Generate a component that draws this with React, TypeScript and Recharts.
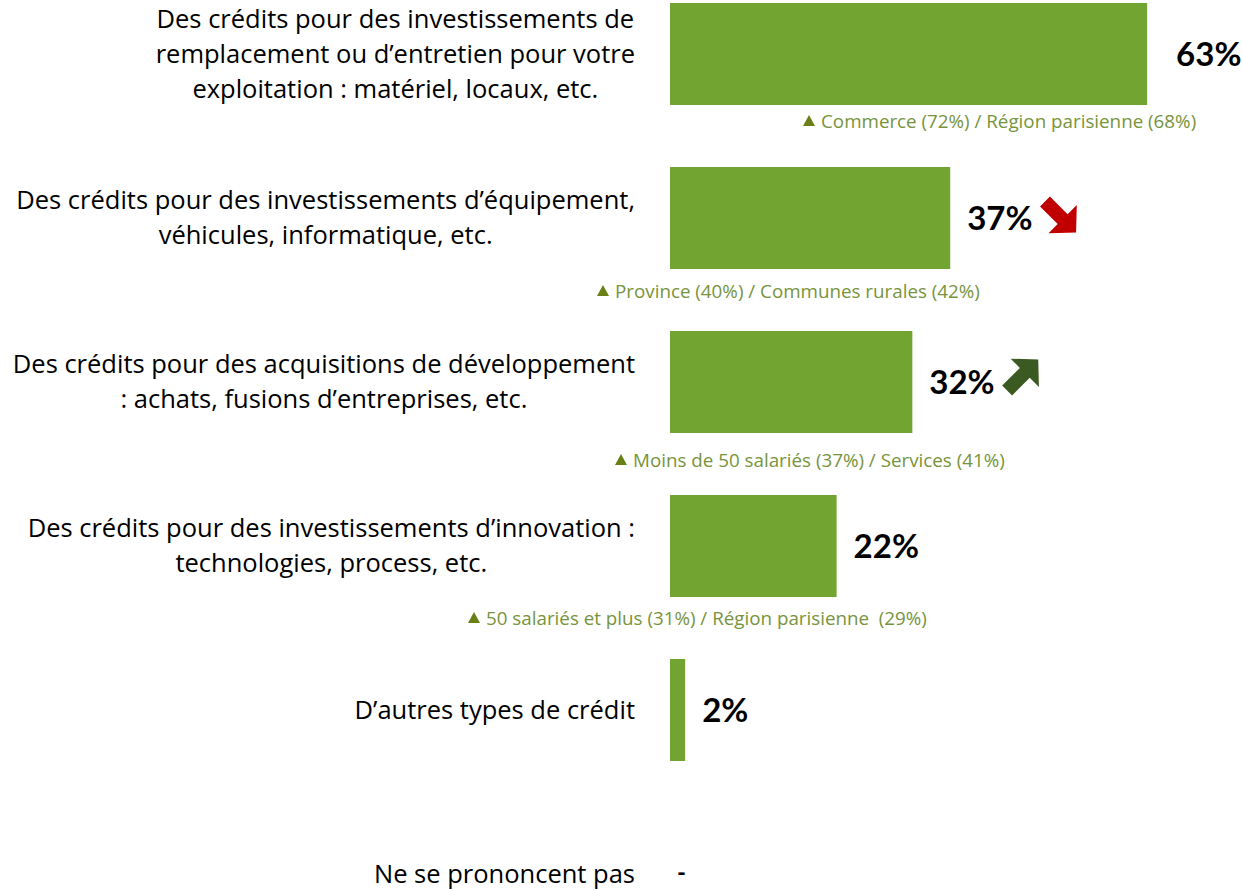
import * as React from "react";
import { Bar, BarChart, XAxis, YAxis, LabelList, Cell } from "recharts";

const categories = [
  "Des crédits pour des investissements de\nremplacement ou d’entretien pour votre\nexploitation : matériel, locaux, etc.",
  "Des crédits pour des investissements d’équipement,\nvéhicules, informatique, etc.",
  "Des crédits pour des acquisitions de développement\n: achats, fusions d’entreprises, etc.",
  "Des crédits pour des investissements d’innovation :\ntechnologies, process, etc.",
  "D’autres types de crédit",
  "Ne se prononcent pas",
];
const values = [63, 37, 32, 22, 2, 0];
const valueLabels = ["63%", "37%", "32%", "22%", "2%", "-"];
const trends = ["", "down", "up", "", "", ""];
const highlights = [
  "Commerce (72%) / Région parisienne (68%)",
  "Province (40%) / Communes rurales (42%)",
  "Moins de 50 salariés (37%) / Services (41%)",
  "50 salariés et plus (31%) / Région parisienne  (29%)",
  "",
  "",
];

// placement tweaks (not data)
const VALUE_GAP = [29, 17, 17, 17, 17, 7];
const NOTE_OFFSET_X = [133, -73, -55, -202, 0, 0];
const NOTE_DY = [67, 73, 78, 72, 0, 0];

const FONT = "'Open Sans', Lato, sans-serif";
const VALUE_FONT = "Lato, 'Open Sans', sans-serif";
const CAT_SIZE = 25.5;
const VALUE_SIZE = 33;
const NOTE_SIZE = 18.8;
const BAR_COLOR = "#72A432";

const rows = categories.map((label, i) => ({ label, value: values[i] }));

let ctx: CanvasRenderingContext2D | null = null;
function measure(text: string, font: string) {
  if (!ctx) ctx = document.createElement("canvas").getContext("2d");
  if (!ctx) return text.length * 10;
  ctx.font = font;
  return ctx.measureText(text).width;
}

function CategoryTick(props: any) {
  const { x, y, payload } = props;
  const lines = String(payload.value).split("\n");
  const maxW = Math.max(...lines.map((l) => measure(l, `${CAT_SIZE}px 'Open Sans'`)));
  const cx = x - maxW / 2;
  return (
    <text textAnchor="middle" fontSize={CAT_SIZE} fontFamily={FONT} fill="#000">
      {lines.map((l, i) => (
        <tspan key={i} x={cx} y={y + (i - (lines.length - 1) / 2) * 35 + CAT_SIZE * 0.35}>
          {l}
        </tspan>
      ))}
    </text>
  );
}

function Arrow({ x, y, dir }: { x: number; y: number; dir: string }) {
  const pts = "-22,-7 3,-7 3,-20 22,0 3,20 3,7 -22,7";
  const down = dir === "down";
  return (
    <polygon
      points={pts}
      fill={down ? "#C00000" : "#3B5A22"}
      transform={`translate(${x + 2},${y + (down ? -2 : 2)}) rotate(${down ? 45 : -45})`}
    />
  );
}

function BarExtras(props: any) {
  const { x, y, width, height, index } = props;
  const cy = y + height / 2;
  const w = values[index] > 0 ? width : 0;
  const tx = x + w + VALUE_GAP[index];
  const label = valueLabels[index];
  const isDash = label === "-";
  const size = isDash ? 24 : VALUE_SIZE;
  const tw = measure(label, `bold ${VALUE_SIZE}px Lato`);
  const trend = trends[index];
  const note = highlights[index];
  const nx = x + NOTE_OFFSET_X[index];
  const ny = cy + NOTE_DY[index];
  return (
    <g>
      <text
        x={tx}
        y={cy}
        dy={isDash ? 7 : VALUE_SIZE * 0.35}
        fontSize={size}
        fontWeight="bold"
        fontFamily={VALUE_FONT}
        fill="#000"
      >
        {label}
      </text>
      {trend && <Arrow x={tx + tw + 26} y={cy + (trend === "up" ? -9 : 1)} dir={trend} />}
      {note && (
        <g>
          <polygon
            points={`${nx},${ny + 5} ${nx + 12},${ny + 5} ${nx + 6},${ny - 6}`}
            fill="#6B7F17"
          />
          <text
            x={nx + 18}
            y={ny}
            dy={NOTE_SIZE * 0.35}
            fontSize={NOTE_SIZE}
            fontFamily={FONT}
            fill="#77933C"
            style={{ whiteSpace: "pre" }}
          >
            {note}
          </text>
        </g>
      )}
    </g>
  );
}

export default function App() {
  return (
    <div
      style={{
        position: "absolute",
        left: 0,
        top: 0,
        width: 1242,
        height: 890,
        overflow: "hidden",
        background: "#fff",
      }}
    >
      <div style={{ marginTop: -28 }}>
        <BarChart
          layout="vertical"
          width={1242}
          height={984}
          data={rows}
          margin={{ top: 0, right: 4, bottom: 0, left: 0 }}
          barCategoryGap={31}
        >
          <XAxis type="number" domain={[0, 75]} hide />
          <YAxis
            type="category"
            dataKey="label"
            width={670}
            axisLine={false}
            tickLine={false}
            tickSize={0}
            tickMargin={35}
            interval={0}
            tick={<CategoryTick />}
          />
          <Bar dataKey="value" fill={BAR_COLOR} minPointSize={1} isAnimationActive={false}>
            {values.map((v, i) => (
              <Cell key={i} fill={v > 0 ? BAR_COLOR : "transparent"} />
            ))}
            <LabelList dataKey="value" content={<BarExtras />} />
          </Bar>
        </BarChart>
      </div>
    </div>
  );
}
